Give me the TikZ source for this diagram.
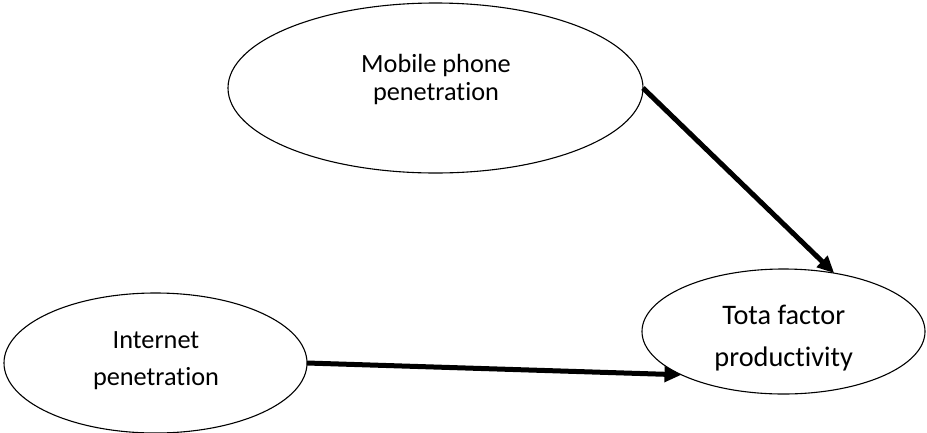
\documentclass[tikz,border=0pt]{standalone}
\usepackage{fontspec}
\setmainfont{Carlito}[Ligatures={NoCommon}]
\usetikzlibrary{shapes.geometric,arrows.meta}
\begin{document}
\begin{tikzpicture}[x=1pt,y=-1pt,
  oval/.style={ellipse,draw,line width=1.1pt,inner sep=0pt,outer sep=0pt},
  lbl/.style={align=center,inner sep=0pt},
  conn/.style={line width=5pt,-{Triangle[length=17pt,width=15pt]}}]
\useasboundingbox (0,0) rectangle (927,432);
\node[oval,minimum width=415,minimum height=170] (mob) at (435.5,88) {};
\node[oval,minimum width=303,minimum height=140] (inet) at (155.5,363) {};
\node[oval,minimum width=283,minimum height=125] (tfp) at (783.5,331.5) {};
\node[lbl,font=\fontsize{26.3}{28}\selectfont] (mobtxt) at (436,79.7) {Mobile phone\\penetration};
\node[lbl,font=\fontsize{26.3}{37.7}\selectfont] (inettxt) at (156,360.7) {Internet\\penetration};
\node[lbl,font=\fontsize{28.3}{42.7}\selectfont] (tfptxt) at (783.7,338) {Tota factor\\productivity};
\draw[conn] (mob.-0.6) -- (tfp.49.2);
\draw[conn] (inet.-0.8) -- (tfp.203.6);
\end{tikzpicture}
\end{document}
